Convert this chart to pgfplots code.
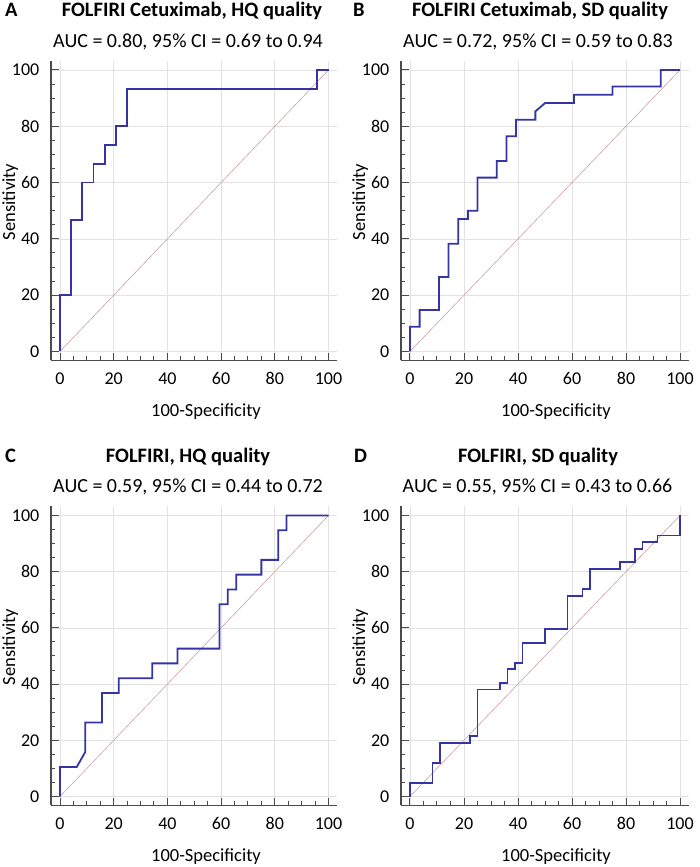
\documentclass[border=0pt]{standalone}
\usepackage{pgfplots}
\pgfplotsset{compat=1.18}
\usepackage{fontspec}
\setmainfont{Carlito}
\definecolor{roc}{RGB}{52,52,165}
\definecolor{diag}{RGB}{205,160,165}
\definecolor{axgray}{RGB}{75,75,75}
\definecolor{gridc}{RGB}{226,226,226}
\newcommand{\tfont}{\fontsize{20.5}{24}\selectfont\bfseries}
\newcommand{\afont}{\fontsize{20}{24}\selectfont}
\newcommand{\sfont}{\fontsize{18.5}{22}\selectfont}
\newcommand{\kfont}{\fontsize{18}{22}\selectfont}
\pgfplotsset{
  rocax/.style={
    scale only axis,
    xmin=-3.33, xmax=103.33, ymin=-3.2, ymax=103.2,
    axis x line*=bottom, axis y line*=left,
    axis line style={draw=axgray, line width=1.8pt},
    xtick={0,20,...,100}, ytick={0,20,...,100},
    minor x tick num=3, minor y tick num=3,
    tick align=inside,
    major tick length=7.5pt, minor tick length=4pt,
    every tick/.style={draw=axgray, line width=1pt},
    grid=major,
    major grid style={draw=gridc, line width=0.7pt},
    /pgf/number format/assume math mode=true,
    tick label style={font=\kfont, inner sep=0pt},
    xticklabel style={anchor=base, yshift=-24.5pt},
    yticklabel style={anchor=east, xshift=-11.5pt},
    clip=false,
  },
  rocline/.style={draw=roc, line width=1.8pt, line join=miter},
  diagline/.style={draw=diag, line width=0.6pt},
}
\begin{document}
\begin{tikzpicture}[x=1pt,y=1pt]
\useasboundingbox (0,0) rectangle (700,867);
% Panel A
\begin{axis}[rocax, at={(51.06pt,506.5pt)}, anchor=south west, width=286.4pt, height=299.5pt]
\addplot[diagline] coordinates {(0,0) (100,100)};
\addplot[rocline] coordinates {(0,0)(0,20)(4.17,20)(4.17,46.67)(8.33,46.67)(8.33,60)(12.5,60)(12.5,66.67)(16.67,66.67)(16.67,73.33)(20.83,73.33)(20.83,80)(25,80)(25,93.33)(95.83,93.33)(95.83,100)(100,100)};
\end{axis}
% Panel B
\begin{axis}[rocax, at={(401pt,506.5pt)}, anchor=south west, width=288pt, height=299.5pt]
\addplot[diagline] coordinates {(0,0) (100,100)};
\addplot[rocline] coordinates {(0,0)(0,8.82)(3.57,8.82)(3.57,14.71)(10.71,14.71)(10.71,26.47)(14.29,26.47)(14.29,38.24)(17.86,38.24)(17.86,47.06)(21.43,47.06)(21.43,50)(25,50)(25,61.76)(32.14,61.76)(32.14,67.65)(35.71,67.65)(35.71,76.47)(39.29,76.47)(39.29,82.35)(46.43,82.35)(46.43,85.29)(50,88.24)(60.71,88.24)(60.71,91.18)(75,91.18)(75,94.12)(92.86,94.12)(92.86,100)(100,100)};
\end{axis}
% Panel C
\begin{axis}[rocax, at={(51.06pt,61.5pt)}, anchor=south west, width=286.4pt, height=299pt]
\addplot[diagline] coordinates {(0,0) (100,100)};
\addplot[rocline] coordinates {(0,0)(0,10.53)(6.25,10.53)(9.38,15.79)(9.38,26.32)(15.63,26.32)(15.63,36.84)(21.88,36.84)(21.88,42.11)(34.38,42.11)(34.38,47.37)(43.75,47.37)(43.75,52.63)(59.38,52.63)(59.38,68.42)(62.5,68.42)(62.5,73.68)(65.63,73.68)(65.63,78.95)(75,78.95)(75,84.21)(81.25,84.21)(81.25,94.74)(84.38,94.74)(84.38,100)(100,100)};
\end{axis}
% Panel D
\begin{axis}[rocax, at={(401pt,61.5pt)}, anchor=south west, width=288pt, height=299pt]
\addplot[diagline] coordinates {(0,0) (100,100)};
\addplot[rocline] coordinates {(0,0)(0,4.76)(8.33,4.76)(8.33,11.9)(11.11,11.9)(11.11,19.05)(22.22,19.05)(22.22,21.43)(25,21.43)(25,38.1)(33.33,38.1)(33.33,40.48)(36.11,40.48)(36.11,45.24)(38.89,45.24)(38.89,47.62)(41.67,47.62)(41.67,54.76)(50,54.76)(50,59.52)(58.33,59.52)(58.33,71.43)(63.89,71.43)(63.89,73.81)(66.67,73.81)(66.67,80.95)(77.78,80.95)(77.78,83.33)(83.33,83.33)(83.33,88.1)(86.11,88.1)(86.11,90.48)(91.67,90.48)(91.67,92.86)(100,92.86)(100,100)};
\end{axis}
% Titles
\node[anchor=base west, inner sep=0pt, font=\tfont] at (5,850) {A};
\node[anchor=base, inner sep=0pt, font=\tfont] at (192,850) {FOLFIRI Cetuximab, HQ quality};
\node[anchor=base, inner sep=0pt, font=\afont] at (188,819) {AUC = 0.80, 95\% CI = 0.69 to 0.94};
\node[anchor=base west, inner sep=0pt, font=\tfont] at (353,850) {B};
\node[anchor=base, inner sep=0pt, font=\tfont] at (540,850) {FOLFIRI Cetuximab, SD quality};
\node[anchor=base, inner sep=0pt, font=\afont] at (538,819) {AUC = 0.72, 95\% CI = 0.59 to 0.83};
\node[anchor=base west, inner sep=0pt, font=\tfont] at (5,404) {C};
\node[anchor=base, inner sep=0pt, font=\tfont] at (188,404) {FOLFIRI, HQ quality};
\node[anchor=base, inner sep=0pt, font=\afont] at (188,374) {AUC = 0.59, 95\% CI = 0.44 to 0.72};
\node[anchor=base west, inner sep=0pt, font=\tfont] at (354,404) {D};
\node[anchor=base, inner sep=0pt, font=\tfont] at (538,404) {FOLFIRI, SD quality};
\node[anchor=base, inner sep=0pt, font=\afont] at (537.5,374) {AUC = 0.55, 95\% CI = 0.43 to 0.66};
% Axis labels
\node[anchor=base, inner sep=0pt, font=\sfont] at (206,450.5) {100-Specificity};
\node[anchor=base, inner sep=0pt, font=\sfont] at (556,450.5) {100-Specificity};
\node[anchor=base, inner sep=0pt, font=\sfont] at (206,5.5) {100-Specificity};
\node[anchor=base, inner sep=0pt, font=\sfont] at (556,5.5) {100-Specificity};
\node[anchor=base, inner sep=0pt, font=\sfont, rotate=90] at (15,665) {Sensitivity};
\node[anchor=base, inner sep=0pt, font=\sfont, rotate=90] at (365,665) {Sensitivity};
\node[anchor=base, inner sep=0pt, font=\sfont, rotate=90] at (15,220) {Sensitivity};
\node[anchor=base, inner sep=0pt, font=\sfont, rotate=90] at (365,220) {Sensitivity};
\end{tikzpicture}
\end{document}
